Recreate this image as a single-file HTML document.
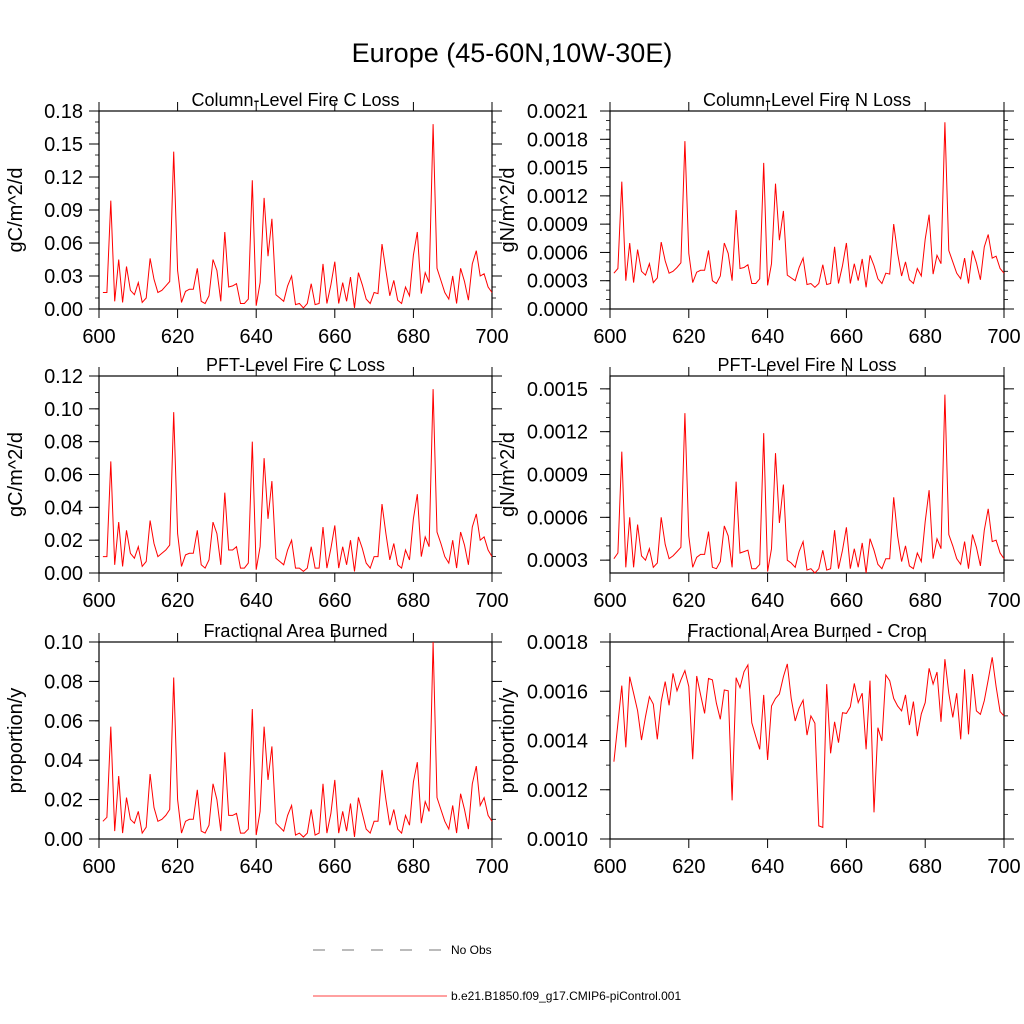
<!DOCTYPE html>
<html><head><meta charset="utf-8"><style>
html,body{margin:0;padding:0;background:#fff;}
svg{display:block;font-family:"Liberation Sans",sans-serif;}
</style></head><body>
<svg id="fig" width="1024" height="1024" viewBox="0 0 1024 1024" xmlns="http://www.w3.org/2000/svg">
<text x="512" y="62" font-size="27" text-anchor="middle">Europe (45-60N,10W-30E)</text>
<g>
<line x1="313" y1="950" x2="447" y2="950" stroke="#777" stroke-width="1" stroke-dasharray="12,17"/>
<text x="451" y="954" font-size="12">No Obs</text>
<line x1="313" y1="996" x2="447" y2="996" stroke="#f00" stroke-width="0.8"/>
<text x="451" y="1000" font-size="12">b.e21.B1850.f09_g17.CMIP6-piControl.001</text>
</g>
</svg>
<script>
const years = Array.from({length:100},(_, i)=>601+i);
const colC = [.015,.015,.0985,.007,.045,.006,.0386,.017,.013,.024,.006,.010,.046,.027,.015,.017,.021,.025,.143,.035,.006,.016,.018,.018,.037,.007,.005,.012,.045,.035,.007,.070,.020,.021,.023,.005,.005,.009,.117,.003,.024,.101,.048,.082,.013,.010,.007,.021,.030,.004,.005,.001,.005,.023,.004,.005,.041,.005,.022,.043,.005,.024,.007,.029,.001,.033,.022,.009,.005,.015,.014,.059,.035,.012,.026,.008,.005,.020,.012,.049,.070,.014,.033,.024,.168,.037,.026,.015,.009,.030,.005,.037,.025,.008,.041,.053,.030,.032,.020,.015];
const colN = [3.8,4.3,13.5,3.0,7.0,2.8,6.3,4.0,3.6,4.8,2.8,3.3,7.1,5.1,3.8,4.0,4.4,4.9,17.8,5.9,2.8,3.9,4.1,4.1,6.2,3.0,2.7,3.5,7.0,5.9,3.0,10.5,4.3,4.4,4.7,2.7,2.7,3.2,15.5,2.5,4.8,13.3,7.3,10.4,3.6,3.3,3.0,4.4,5.4,2.6,2.7,2.3,2.7,4.7,2.6,2.7,6.6,2.7,4.6,7.0,2.7,4.8,3.0,5.3,2.3,5.7,4.6,3.2,2.7,3.8,3.7,9.0,5.9,3.5,5.0,3.1,2.7,4.3,3.5,7.4,10.0,3.7,5.7,4.8,19.8,6.2,5.0,3.8,3.2,5.4,2.7,6.2,4.9,3.1,6.6,7.9,5.4,5.6,4.3,3.8].map(v=>v*1e-4);
const pftC = [.010,.010,.068,.005,.031,.004,.026,.012,.009,.016,.004,.007,.032,.018,.010,.012,.014,.017,.098,.024,.004,.011,.012,.012,.026,.005,.003,.008,.031,.024,.005,.049,.014,.014,.016,.003,.003,.006,.080,.002,.016,.070,.033,.056,.009,.007,.005,.014,.020,.003,.003,.001,.003,.016,.003,.003,.028,.003,.015,.029,.003,.016,.005,.020,.001,.022,.015,.006,.003,.010,.010,.042,.024,.008,.018,.005,.003,.014,.008,.033,.048,.010,.022,.016,.112,.025,.018,.010,.006,.020,.003,.025,.017,.005,.028,.036,.020,.022,.014,.010];
const pftN = [3.1,3.5,10.6,2.5,6.0,2.5,5.5,3.3,3.0,3.8,2.5,2.8,6.0,4.1,3.1,3.3,3.6,3.9,13.3,4.7,2.5,3.2,3.4,3.4,5.0,2.5,2.4,2.9,5.4,4.7,2.5,8.5,3.5,3.6,3.7,2.4,2.4,2.7,11.9,2.2,3.8,10.5,5.6,8.3,3.0,2.8,2.5,3.6,4.3,2.3,2.4,2.1,2.4,3.7,2.3,2.4,5.1,2.4,3.7,5.3,2.4,3.8,2.5,4.2,2.1,4.5,3.7,2.7,2.4,3.1,3.1,7.4,4.7,2.9,4.0,2.6,2.4,3.5,2.9,5.7,7.9,3.1,4.5,3.8,14.6,4.8,4.0,3.1,2.7,4.3,2.4,4.8,3.9,2.6,5.1,6.6,4.3,4.4,3.5,3.1].map(v=>v*1e-4);
const areaB = [.009,.011,.057,.004,.032,.003,.021,.010,.008,.014,.003,.006,.033,.016,.009,.010,.012,.015,.082,.020,.003,.009,.010,.010,.025,.004,.003,.007,.028,.020,.004,.044,.012,.012,.013,.003,.003,.005,.066,.002,.014,.057,.030,.047,.008,.006,.004,.012,.017,.002,.003,.001,.003,.015,.002,.003,.028,.003,.013,.030,.003,.014,.004,.018,.001,.021,.013,.005,.003,.009,.009,.035,.020,.007,.015,.005,.003,.012,.007,.029,.039,.008,.019,.014,.100,.021,.015,.009,.005,.017,.003,.023,.015,.005,.028,.037,.017,.021,.012,.009];
const cropB = [13.14,14.7,16.23,13.72,16.59,15.92,15.21,14.02,14.97,15.78,15.48,14.05,15.58,16.39,15.43,16.73,16.02,16.46,16.84,16.19,13.24,16.62,15.85,15.10,16.52,16.46,15.51,14.86,16.05,16.02,11.57,16.55,16.15,16.79,17.07,14.72,14.16,13.64,15.85,13.21,15.40,15.71,15.89,16.59,17.11,15.71,14.79,15.31,15.64,14.22,15.00,14.70,10.53,10.47,16.29,13.48,14.76,13.91,15.13,15.10,15.37,16.32,15.54,15.92,13.64,16.43,11.08,14.52,13.98,16.66,16.43,15.71,15.40,15.20,15.85,14.63,15.58,14.18,15.08,15.54,16.93,16.29,16.78,14.76,17.30,15.92,14.94,15.92,14.05,16.89,14.25,16.70,15.20,15.06,15.62,16.46,17.38,16.19,15.17,15.00].map(v=>v*1e-4);
const xTicks = [600,620,640,660,680,700];
const ticksColC = [0,0.03,0.06,0.09,0.12,0.15,0.18];
const ticksColN = [0,0.0003,0.0006,0.0009,0.0012,0.0015,0.0018,0.0021];
const ticksPftC = [0,0.02,0.04,0.06,0.08,0.10,0.12];
const ticksPftN = [0.0003,0.0006,0.0009,0.0012,0.0015];
const ticksArea = [0,0.02,0.04,0.06,0.08,0.10];
const ticksCrop = [0.0010,0.0012,0.0014,0.0016,0.0018];

const panels = [
 {name:'column-fire-c-loss',title:'Column-Level Fire C Loss',yl:'gC/m^2/d',data:colC,ticks:ticksColC,dec:2,ymin:0,ymax:0.18,minor:3,x0:99,x1:492,y0:111,y1:309,lo:16,to:84},
 {name:'column-fire-n-loss',title:'Column-Level Fire N Loss',yl:'gN/m^2/d',data:colN,ticks:ticksColN,dec:4,ymin:0,ymax:0.0021,minor:3,x0:610,x1:1004,y0:111,y1:309,lo:22,to:103},
 {name:'pft-fire-c-loss',title:'PFT-Level Fire C Loss',yl:'gC/m^2/d',data:pftC,ticks:ticksPftC,dec:2,ymin:0,ymax:0.12,minor:2,x0:99,x1:492,y0:376,y1:573,lo:16,to:84},
 {name:'pft-fire-n-loss',title:'PFT-Level Fire N Loss',yl:'gN/m^2/d',data:pftN,ticks:ticksPftN,dec:4,ymin:0.00021,ymax:0.00159,minor:3,x0:610,x1:1004,y0:376,y1:573,lo:22,to:103},
 {name:'fractional-area-burned',title:'Fractional Area Burned',yl:'proportion/y',data:areaB,ticks:ticksArea,dec:2,ymin:0,ymax:0.10,minor:2,x0:99,x1:492,y0:642,y1:839,lo:16,to:84},
 {name:'fractional-area-burned-crop',title:'Fractional Area Burned - Crop',yl:'proportion/y',data:cropB,ticks:ticksCrop,dec:4,ymin:0.0010,ymax:0.0018,minor:2,x0:610,x1:1004,y0:642,y1:839,lo:22,to:103}
];
const NS='http://www.w3.org/2000/svg';
const svg=document.getElementById('fig');
function mk(tag,attrs,parent){const e=document.createElementNS(NS,tag);for(const k in attrs)e.setAttribute(k,attrs[k]);parent.appendChild(e);return e;}
panels.forEach(p=>{
  const g=mk('g',{},svg);
  
  
  const xs=v=>p.x0+(v-600)/100*(p.x1-p.x0);
  const ys=v=>p.y1-(v-p.ymin)/(p.ymax-p.ymin)*(p.y1-p.y0);
  const box=mk('rect',{x:p.x0,y:p.y0,width:p.x1-p.x0,height:p.y1-p.y0,fill:'none',stroke:'#000','stroke-width':1.2},g);
  
  
  xTicks.forEach(t=>{
    const x=xs(t);
    mk('line',{x1:x,y1:p.y1,x2:x,y2:p.y1+9,stroke:'#000','stroke-width':1},g);
    mk('line',{x1:x,y1:p.y0,x2:x,y2:p.y0-9,stroke:'#000','stroke-width':1},g);
    const tl=mk('text',{x:x,y:p.y1+34,'font-size':20,'text-anchor':'middle'},g);
    tl.textContent=String(t);
    
    
  });
  const step=p.ticks[1]-p.ticks[0];
  for(let v=p.ticks[0]-step;v<=p.ymax+1e-12;v+=step/p.minor){
    if(v<p.ymin-1e-12)continue;
    const y=ys(v);
    mk('line',{x1:p.x0,y1:y,x2:p.x0-4,y2:y,stroke:'#000','stroke-width':0.8},g);
    mk('line',{x1:p.x1,y1:y,x2:p.x1+4,y2:y,stroke:'#000','stroke-width':0.8},g);
  }
  p.ticks.forEach(t=>{
    const y=ys(t);
    mk('line',{x1:p.x0,y1:y,x2:p.x0-10,y2:y,stroke:'#000','stroke-width':1},g);
    mk('line',{x1:p.x1,y1:y,x2:p.x1+10,y2:y,stroke:'#000','stroke-width':1},g);
    const tl=mk('text',{x:p.x0-p.lo,y:y+7,'font-size':20,'text-anchor':'end'},g);
    tl.textContent=t.toFixed(p.dec);
    
    
  });
  const ti=mk('text',{x:(p.x0+p.x1)/2,y:p.y0-5,'font-size':18,'text-anchor':'middle'},g);
  ti.textContent=p.title;
  
  
  const yc=(p.y0+p.y1)/2, yx=p.x0-p.to+7;
  const yt=mk('text',{x:yx,y:yc,'font-size':20,'text-anchor':'middle',transform:`rotate(-90 ${yx} ${yc})`},g);
  yt.textContent=p.yl;
  
  
  const pts=p.data.map((v,i)=>xs(years[i]).toFixed(1)+','+ys(v).toFixed(1)).join(' ');
  const ln=mk('polyline',{points:pts,fill:'none',stroke:'#f00','stroke-width':1,'stroke-linejoin':'miter'},g);
  
  
});
</script>
</body></html>
